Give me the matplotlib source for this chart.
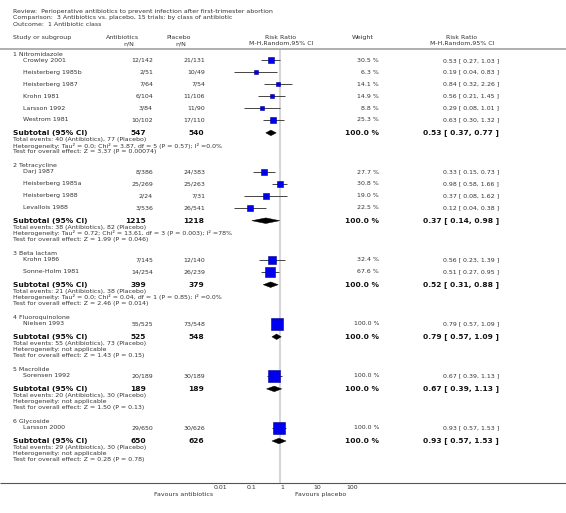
import matplotlib
matplotlib.use("Agg")
import matplotlib.pyplot as plt
from matplotlib.patches import Polygon
from matplotlib.ticker import NullLocator
import numpy as np

# ---------------- data ----------------
title_lines = [
    "Review:  Perioperative antibiotics to prevent infection after first-trimester abortion",
    "Comparison:  3 Antibiotics vs. placebo, 15 trials: by class of antibiotic",
    "Outcome:  1 Antibiotic class",
]
groups = ["1 Nitromidazole", "2 Tetracycline", "3 Beta lactam",
          "4 Fluoroquinolone", "5 Macrolide", "6 Glycoside"]

study_names = ["Crowley 2001", "Heisterberg 1985b", "Heisterberg 1987", "Krohn 1981",
               "Larsson 1992", "Westrom 1981",
               "Darj 1987", "Heisterberg 1985a", "Heisterberg 1988", "Levallois 1988",
               "Krohn 1986", "Sonne-Holm 1981",
               "Nielsen 1993", "Sorensen 1992", "Larsson 2000"]
study_group = [0, 0, 0, 0, 0, 0, 1, 1, 1, 1, 2, 2, 3, 4, 5]
abx_events = [12, 2, 7, 6, 3, 10, 8, 25, 2, 3, 7, 14, 55, 20, 29]
abx_total = [142, 51, 64, 104, 84, 102, 386, 269, 24, 536, 145, 254, 525, 189, 650]
pla_events = [21, 10, 7, 11, 11, 17, 24, 25, 7, 26, 12, 26, 73, 30, 30]
pla_total = [131, 49, 54, 106, 90, 110, 383, 263, 31, 541, 140, 239, 548, 189, 626]
weights = [30.5, 6.3, 14.1, 14.9, 8.8, 25.3, 27.7, 30.8, 19.0, 22.5, 32.4, 67.6, 100.0, 100.0, 100.0]
rr = [0.53, 0.19, 0.84, 0.56, 0.29, 0.63, 0.33, 0.98, 0.37, 0.12, 0.56, 0.51, 0.79, 0.67, 0.93]
rr_lo = [0.27, 0.04, 0.32, 0.21, 0.08, 0.30, 0.15, 0.58, 0.08, 0.04, 0.23, 0.27, 0.57, 0.39, 0.57]
rr_hi = [1.03, 0.83, 2.26, 1.45, 1.01, 1.32, 0.73, 1.66, 1.62, 0.38, 1.39, 0.95, 1.09, 1.13, 1.53]

sub_abx_N = [547, 1215, 399, 525, 189, 650]
sub_pla_N = [540, 1218, 379, 548, 189, 626]
sub_abx_ev = [40, 38, 21, 55, 20, 29]
sub_pla_ev = [77, 82, 38, 73, 30, 30]
sub_rr = [0.53, 0.37, 0.52, 0.79, 0.67, 0.93]
sub_lo = [0.37, 0.14, 0.31, 0.57, 0.39, 0.57]
sub_hi = [0.77, 0.98, 0.88, 1.09, 1.13, 1.53]
het_text = ["Tau\u00b2 = 0.0; Chi\u00b2 = 3.87, df = 5 (P = 0.57); I\u00b2 =0.0%",
            "Tau\u00b2 = 0.72; Chi\u00b2 = 13.61, df = 3 (P = 0.003); I\u00b2 =78%",
            "Tau\u00b2 = 0.0; Chi\u00b2 = 0.04, df = 1 (P = 0.85); I\u00b2 =0.0%",
            "not applicable", "not applicable", "not applicable"]
z_text = ["Z = 3.37 (P = 0.00074)", "Z = 1.99 (P = 0.046)", "Z = 2.46 (P = 0.014)",
          "Z = 1.43 (P = 0.15)", "Z = 1.50 (P = 0.13)", "Z = 0.28 (P = 0.78)"]

axis_ticks = [0.01, 0.1, 1, 10, 100]
axis_labels = ["0.01", "0.1", "1", "10", "100"]

# ---------------- layout ----------------
W, H = 566, 513
fig = plt.figure(figsize=(W / 100, H / 100), dpi=100)
ax = fig.add_axes([0, 0, 1, 1])
ax.set_xlim(0, W)
ax.set_ylim(H, 0)
ax.axis("off")

X1, X100 = 214, 346  # pixel span of 0.01 .. 100
fax = fig.add_axes([X1 / W, 0, (X100 - X1) / W, 1])
fax.set_xscale("log")
fax.set_xlim(0.01, 100)
fax.set_ylim(H, 0)
fax.patch.set_alpha(0)
for s in fax.spines.values():
    s.set_visible(False)
fax.spines["bottom"].set_position(("data", 483))
fax.set_yticks([])
fax.set_xticks(axis_ticks)
fax.set_xticklabels(axis_labels)
fax.xaxis.set_minor_locator(NullLocator())
fax.tick_params(axis="x", length=0, pad=1.2, labelsize=4.5, labelcolor="#333333")
for lbl in fax.get_xticklabels():
    lbl.set_horizontalalignment("left")

FS = 4.5
FSB = 5.4
TC = "#333333"
BC = "#111111"

def t(x, y, s, ha="left", bold=False, size=None):
    ax.text(x, y, s, ha=ha, va="center", fontsize=size or (FSB if bold else FS),
            fontweight="bold" if bold else "normal", color=BC if bold else TC,
            family="DejaVu Sans")

# title
for i, line in enumerate(title_lines):
    t(13, 11.7 + 6.3 * i, line)

# headers
t(13, 37.5, "Study or subgroup")
t(123, 37.5, "Antibiotics", ha="center")
t(129, 43.5, "n/N", ha="center")
t(179, 37.5, "Placebo", ha="center")
t(181, 43.5, "n/N", ha="center")
t(281, 37.5, "Risk Ratio", ha="center")
t(281, 43.5, "M-H,Random,95% CI", ha="center")
t(363, 37.5, "Weight", ha="center")
t(462, 37.5, "Risk Ratio", ha="center")
t(462, 43.5, "M-H,Random,95% CI", ha="center")
ax.hlines(49.3, 0, W, color="#9a9a9a", lw=1.1)

# reference line at 1 and bottom axis
fax.vlines(1, 50, 483, color="#d6d6d6", lw=1.5, zorder=0)
ax.hlines(483.3, 0, W, color="#555555", lw=0.8)

# rows
y = 54.0
for g, gname in enumerate(groups):
    t(13, y, gname)
    y += 6.4
    idx = [i for i, sg in enumerate(study_group) if sg == g]
    for k, i in enumerate(idx):
        if k > 0:
            y += 11.9
        t(23, y, study_names[i])
        t(153, y, f"{abx_events[i]}/{abx_total[i]}", ha="right")
        t(205, y, f"{pla_events[i]}/{pla_total[i]}", ha="right")
        t(379, y, f"{weights[i]:.1f} %", ha="right")
        t(499, y, f"{rr[i]:.2f} [ {rr_lo[i]:.2f}, {rr_hi[i]:.2f} ]", ha="right")
        fax.hlines(y, rr_lo[i], rr_hi[i], color="#444444", lw=0.7, zorder=2)
        side_px = max(3.6, 12.6 * np.sqrt(weights[i] / 100.0))
        fax.plot([rr[i]], [y], marker="s", ms=side_px * 0.72, mfc="#0000ee",
                 mec="#00008b", mew=0.4, zorder=3)
    y += 13.0
    t(13, y, "Subtotal (95% CI)", bold=True)
    t(146, y, f"{sub_abx_N[g]}", ha="right", bold=True)
    t(204, y, f"{sub_pla_N[g]}", ha="right", bold=True)
    t(379, y, "100.0 %", ha="right", bold=True)
    t(499, y, f"{sub_rr[g]:.2f} [ {sub_lo[g]:.2f}, {sub_hi[g]:.2f} ]", ha="right", bold=True)
    dia = Polygon([(sub_lo[g], y), (sub_rr[g], y - 2.8), (sub_hi[g], y), (sub_rr[g], y + 2.8)],
                  closed=True, facecolor="black", edgecolor="black", lw=0.3, zorder=3)
    fax.add_patch(dia)
    y += 6.5
    t(13, y, f"Total events: {sub_abx_ev[g]} (Antibiotics), {sub_pla_ev[g]} (Placebo)")
    y += 6.2
    t(13, y, f"Heterogeneity: {het_text[g]}")
    y += 6.2
    t(13, y, f"Test for overall effect: {z_text[g]}")
    y += 13.8

# favours labels
t(213, 494.3, "Favours antibiotics", ha="right")
t(295, 494.3, "Favours placebo", ha="left")

fig.savefig("out.png", dpi=100)
